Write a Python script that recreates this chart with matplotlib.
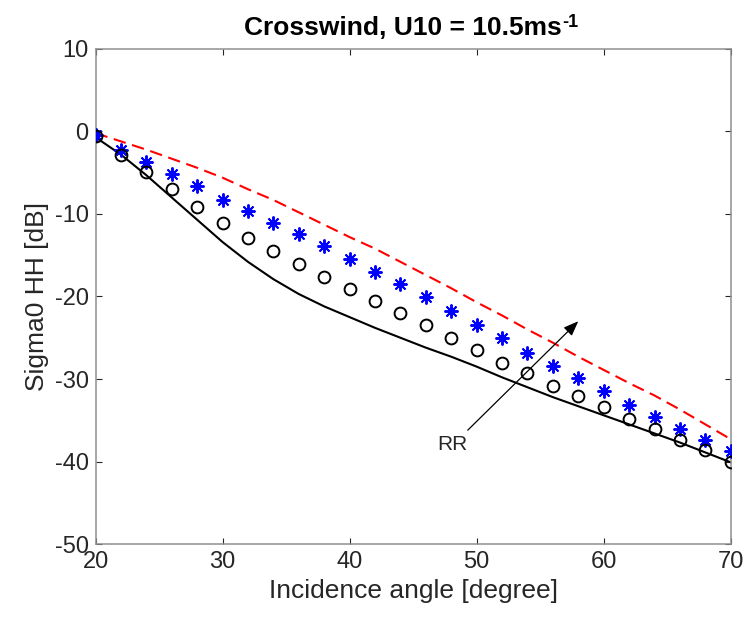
import matplotlib
matplotlib.use("Agg")
import matplotlib.pyplot as plt

plt.rcParams["font.family"] = ["Liberation Sans", "DejaVu Sans"]
plt.rcParams["axes.unicode_minus"] = False

# incidence angles (degree)
angles = [20, 22, 24, 26, 28, 30, 32, 34, 36, 38, 40, 42, 44,
          46, 48, 50, 52, 54, 56, 58, 60, 62, 64, 66, 68, 70]

# black open circles
circles_db = [-0.6, -2.8, -4.9, -7.0, -9.1, -11.1, -12.9, -14.5, -16.1,
              -17.6, -19.1, -20.6, -22.0, -23.5, -25.0, -26.5, -28.0,
              -29.3, -30.8, -32.1, -33.4, -34.8, -36.1, -37.4, -38.6, -40.0]

# blue asterisks
stars_db = [-0.4, -2.2, -3.7, -5.1, -6.6, -8.3, -9.6, -11.1, -12.4,
            -13.9, -15.4, -17.0, -18.5, -20.1, -21.8, -23.4, -25.0,
            -26.8, -28.4, -29.9, -31.4, -33.1, -34.6, -36.1, -37.4, -38.7]

# black solid curve
solid_db = [-0.7, -2.8, -5.3, -8.0, -10.7, -13.4, -15.8, -17.9, -19.7,
            -21.2, -22.5, -23.8, -25.0, -26.2, -27.3, -28.5, -29.8,
            -31.0, -32.2, -33.3, -34.4, -35.5, -36.6, -37.7, -38.9, -40.1]

# red dashed curve
dashed_db = [-0.2, -1.2, -2.2, -3.3, -4.4, -5.6, -7.0, -8.3, -9.8,
             -11.3, -12.8, -14.2, -15.8, -17.4, -19.0, -20.7, -22.3,
             -24.0, -25.6, -27.3, -28.9, -30.5, -32.0, -33.7, -35.5, -37.3]

x_ticks = [20, 30, 40, 50, 60, 70]
y_ticks = [-50, -40, -30, -20, -10, 0, 10]

AXIS_GREY = "#8f8f8f"
TEXT_GREY = "#262626"


def draw_title(ax):
    """Bold title with a hyphen superscript (ms^-1)."""

    title = ax.set_title(
        "Crosswind, U10 = 10.5ms",
        fontsize=19,
        fontweight="bold",
        x=0.484,
        pad=10,
    )

    ax.annotate(
        "-1",
        xy=(1.0, 1.0),
        xycoords=title,
        xytext=(0.5, 1.5),
        textcoords="offset points",
        fontsize=13,
        fontweight="bold",
        ha="left",
        va="top",
    )


def style_axes(ax):
    """MATLAB-like boxed axes."""

    ax.set_xlim(20, 70)
    ax.set_ylim(-50, 10)
    ax.set_xticks(x_ticks)
    ax.set_yticks(y_ticks)

    for spine in ax.spines.values():
        spine.set_color(AXIS_GREY)
        spine.set_linewidth(1.1)

    ax.tick_params(
        direction="in",
        top=True,
        right=True,
        length=4.5,
        width=0.8,
        color=TEXT_GREY,
        labelcolor=TEXT_GREY,
        labelsize=17,
        pad=5,
    )

    ax.set_xlabel(
        "Incidence angle [degree]",
        fontsize=19,
        color=TEXT_GREY,
        labelpad=4,
    )

    ax.set_ylabel(
        "Sigma0 HH [dB]",
        fontsize=19,
        color=TEXT_GREY,
        labelpad=4,
    )


fig = plt.figure(figsize=(7.44, 6.17), dpi=100)
ax = fig.add_axes([0.1284, 0.1183, 0.8538, 0.8023])

ax.plot(
    angles,
    solid_db,
    color="black",
    linewidth=1.5,
    zorder=2,
)

ax.plot(
    angles,
    dashed_db,
    color="#ff0000",
    linewidth=1.5,
    dashes=(6, 3.2),
    zorder=2,
)

ax.plot(
    angles,
    stars_db,
    linestyle="none",
    marker=(8, 2, 0),
    markersize=10,
    markeredgewidth=1.4,
    color="#0000ff",
    zorder=3,
)

ax.plot(
    angles,
    circles_db,
    linestyle="none",
    marker="o",
    markersize=8.5,
    markerfacecolor="none",
    markeredgewidth=1.4,
    markeredgecolor="black",
    zorder=3,
)

ax.annotate(
    "",
    xy=(58.0, -23.0),
    xytext=(49.3, -36.2),
    arrowprops=dict(
        arrowstyle="-|>,head_length=0.9,head_width=0.35",
        color="black",
        linewidth=0.9,
        shrinkA=0,
        shrinkB=0,
    ),
    zorder=4,
)

ax.text(
    48.1,
    -37.9,
    "RR",
    fontsize=15,
    color=TEXT_GREY,
    ha="center",
    va="center",
)

style_axes(ax)
draw_title(ax)

fig.savefig("out.png", dpi=100, facecolor="white")
plt.close(fig)
